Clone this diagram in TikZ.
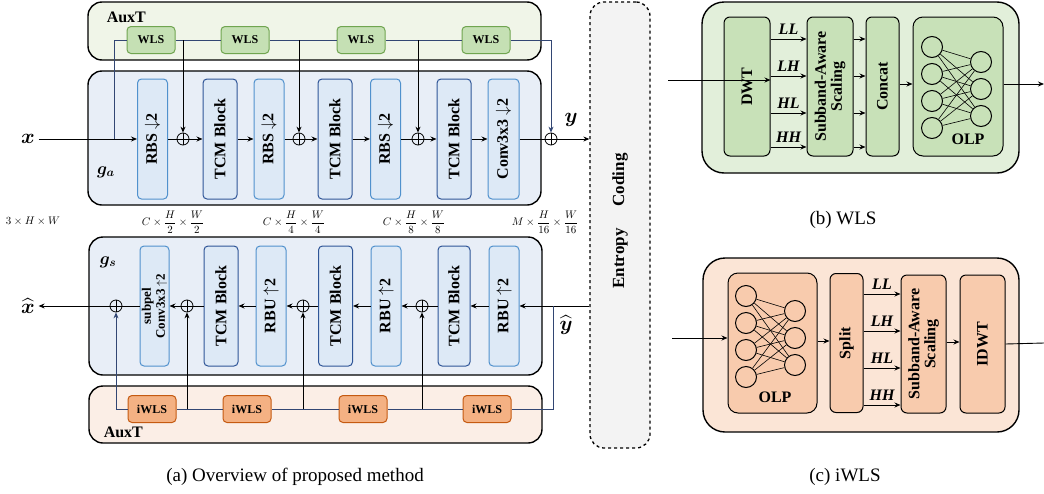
\documentclass[tikz,border=0pt]{standalone}
\usepackage{amsmath}
\usepackage{fontspec}
\setmainfont{Liberation Serif}
\usetikzlibrary{arrows.meta,calc}
\definecolor{auxg}{RGB}{240,245,232}
\definecolor{wlsfill}{RGB}{197,224,180}
\definecolor{wlsdraw}{RGB}{112,165,80}
\definecolor{gafill}{RGB}{232,238,247}
\definecolor{blockfill}{RGB}{221,233,246}
\definecolor{blueL}{RGB}{80,145,205}
\definecolor{blueD}{RGB}{47,85,151}
\definecolor{auxo}{RGB}{251,238,230}
\definecolor{iwfill}{RGB}{244,177,131}
\definecolor{iwdraw}{RGB}{197,90,17}
\definecolor{pgfill}{RGB}{226,239,218}
\definecolor{pginner}{RGB}{200,225,184}
\definecolor{pofill}{RGB}{251,229,214}
\definecolor{poinner}{RGB}{248,203,173}
\definecolor{entfill}{RGB}{243,243,243}
\definecolor{navyline}{RGB}{50,70,115}
\begin{document}
\begin{tikzpicture}[x=1pt,y=-1pt,line width=0.9pt,
  arr/.style={-{Stealth[length=6pt,width=5pt]}},
  nv/.style={draw=navyline},
  outerbox/.style={draw=black,line width=1.4pt,rounded corners=14pt,inner sep=0pt},
  blk/.style={fill=blockfill,line width=1pt,rounded corners=4pt,rotate=90,minimum width=120pt,inner sep=0pt,font=\fontsize{16}{18}\selectfont\bfseries,align=center},
  blkL/.style={blk,draw=blueL},
  blkD/.style={blk,draw=blueD},
  wlsbox/.style={draw=wlsdraw,fill=wlsfill,line width=1pt,rounded corners=4pt,minimum width=48pt,minimum height=27pt,inner sep=0pt,font=\fontsize{12}{14}\selectfont\bfseries},
  iwlsbox/.style={draw=iwdraw,fill=iwfill,line width=1pt,rounded corners=4pt,minimum width=48pt,minimum height=27pt,inner sep=0pt,font=\fontsize{12}{14}\selectfont\bfseries},
  oplus/.style={circle,draw=black,line width=0.8pt,minimum size=12pt,inner sep=0pt,
    path picture={\draw[line width=0.8pt] (path picture bounding box.north)--(path picture bounding box.south) (path picture bounding box.west)--(path picture bounding box.east);}},
  pbox/.style={draw=black,line width=1pt,rounded corners=6pt,rotate=90,minimum width=139pt,inner sep=0pt,font=\fontsize{16}{18}\selectfont\bfseries,align=center},
  neuron/.style={circle,draw=black,line width=1pt,minimum size=21pt,inner sep=0pt},
  lbl/.style={font=\fontsize{16}{18}\selectfont\bfseries},
  subl/.style={font=\fontsize{16}{18}\selectfont\bfseries\itshape},
  dimlbl/.style={font=\fontsize{11}{13}\selectfont},
  captxt/.style={font=\fontsize{19}{21}\selectfont},
  bigm/.style={font=\fontsize{22}{24}\selectfont}
]
\useasboundingbox (0,0) rectangle (1044,493);

% ---------- containers ----------
\node[outerbox,fill=auxg,minimum width=453pt,minimum height=58pt] (auxa) at (314.5,31) {};
\node[outerbox,fill=gafill,minimum width=453pt,minimum height=134pt] (ga) at (314.5,138) {};
\node[outerbox,fill=gafill,minimum width=453pt,minimum height=138pt] (gs) at (315.5,306) {};
\node[outerbox,fill=auxo,minimum width=453pt,minimum height=57pt] (auxs) at (315.5,414.5) {};
\node[draw=black,dashed,line width=1.3pt,fill=entfill,rounded corners=14pt,minimum width=60pt,minimum height=446pt,inner sep=0pt] (ent) at (620,225) {};
\node[rotate=90,font=\fontsize{17}{19}\selectfont\bfseries] (entt) at (620,221) {Entropy\hspace{22pt}Coding};

\node[lbl,anchor=west] (auxal) at (103,17) {AuxT};
\node[lbl,anchor=west] (auxsl) at (100,432) {AuxT};
\node[font=\fontsize{18}{20}\selectfont] (gal) at (106,172) {$\boldsymbol{g_a}$};
\node[font=\fontsize{18}{20}\selectfont] (gsl) at (108,262) {$\boldsymbol{g_s}$};

% ---------- g_a ----------
\node[blkL,minimum height=30pt] (rbs1) at (152.5,139) {RBS $\downarrow$2};
\node[blkD,minimum height=34pt] (tcm1) at (220,139) {TCM Block};
\node[blkL,minimum height=30pt] (rbs2) at (269,139) {RBS $\downarrow$2};
\node[blkD,minimum height=34pt] (tcm2) at (335,139) {TCM Block};
\node[blkL,minimum height=30pt] (rbs3) at (385.5,139) {RBS $\downarrow$2};
\node[blkD,minimum height=34pt] (tcm3) at (454,139) {TCM Block};
\node[blkL,minimum height=31pt] (conv) at (503.5,139) {Conv3x3 $\downarrow$2};
\node[oplus] (o1) at (183,139) {};
\node[oplus] (o2) at (299,139) {};
\node[oplus] (o3) at (418,139) {};
\node[oplus] (o4) at (551,139) {};

\node[wlsbox] (wls1) at (151,40) {WLS};
\node[wlsbox] (wls2) at (245,40) {WLS};
\node[wlsbox] (wls3) at (361,40) {WLS};
\node[wlsbox] (wls4) at (486,40) {WLS};

\node[bigm] (xin) at (28,139) {$\boldsymbol{x}$};
\coordinate (bx) at (114,139);
\draw[arr] (xin) -- (rbs1);
\draw[nv] (bx) |- (wls1);
\draw (rbs1) -- (o1);
\draw[arr] (o1) -- (tcm1);
\draw[arr] (tcm1) -- (rbs2);
\draw (rbs2) -- (o2);
\draw[arr] (o2) -- (tcm2);
\draw[arr] (tcm2) -- (rbs3);
\draw (rbs3) -- (o3);
\draw[arr] (o3) -- (tcm3);
\draw[arr] (tcm3) -- (conv);
\draw (conv) -- (o4);
\draw[arr] (o4) -- (o4 -| ent.west);
\draw[nv] (wls1) -- (wls2);
\draw[nv] (wls2) -- (wls3);
\draw[nv] (wls3) -- (wls4);
\draw[arr] (wls1.east -| o1) -- (o1);
\draw[arr] (wls2.east -| o2) -- (o2);
\draw[arr] (wls3.east -| o3) -- (o3);
\draw[nv,arr] (wls4) -| (o4);
\node[bigm] (ylab) at (571,120) {$\boldsymbol{y}$};

% ---------- dimensions ----------
\node[dimlbl] (d0) at (33,221) {$3\times H\times W$};
\node[dimlbl] (d1) at (173,222) {$C\times\dfrac{H}{2}\times\dfrac{W}{2}$};
\node[dimlbl] (d2) at (294,222) {$C\times\dfrac{H}{4}\times\dfrac{W}{4}$};
\node[dimlbl] (d3) at (414,222) {$C\times\dfrac{H}{8}\times\dfrac{W}{8}$};
\node[dimlbl] (d4) at (545,222) {$M\times\dfrac{H}{16}\times\dfrac{W}{16}$};

% ---------- g_s ----------
\node[blkL,minimum height=29pt,font=\fontsize{13}{14}\selectfont\bfseries] (subc) at (154.5,306) {subpel\\Conv3x3 $\uparrow$2};
\node[blkD,minimum height=34pt] (tcm4) at (221,306) {TCM Block};
\node[blkL,minimum height=30pt] (rbu1) at (271,306) {RBU $\uparrow$2};
\node[blkD,minimum height=34pt] (tcm5) at (335.5,306) {TCM Block};
\node[blkL,minimum height=30pt] (rbu2) at (386,306) {RBU $\uparrow$2};
\node[blkD,minimum height=32pt] (tcm6) at (454,306) {TCM Block};
\node[blkL,minimum height=30pt] (rbu3) at (504,306) {RBU $\uparrow$2};
\node[oplus] (o5) at (116,306) {};
\node[oplus] (o6) at (187,306) {};
\node[oplus] (o7) at (303,306) {};
\node[oplus] (o8) at (422,306) {};

\node[iwlsbox] (iw1) at (152,409) {iWLS};
\node[iwlsbox] (iw2) at (247,409) {iWLS};
\node[iwlsbox] (iw3) at (363,409) {iWLS};
\node[iwlsbox] (iw4) at (487,409) {iWLS};

\node[bigm] (xhat) at (28,306) {$\widehat{\boldsymbol{x}}$};
\node[bigm] (yhat) at (566,325) {$\widehat{\boldsymbol{y}}$};
\coordinate (bs) at (553,306);
\draw[arr] (ent.west |- rbu3) -- (rbu3);
\draw[nv] (bs) |- (iw4);
\draw[arr] (rbu3) -- (tcm6);
\draw (tcm6) -- (o8);
\draw[arr] (o8) -- (rbu2);
\draw[arr] (rbu2) -- (tcm5);
\draw (tcm5) -- (o7);
\draw[arr] (o7) -- (rbu1);
\draw[arr] (rbu1) -- (tcm4);
\draw (tcm4) -- (o6);
\draw[arr] (o6) -- (subc);
\draw (subc) -- (o5);
\draw[arr] (o5) -- (xhat);
\draw[nv] (iw4) -- (iw3);
\draw[nv] (iw3) -- (iw2);
\draw[nv] (iw2) -- (iw1);
\draw[arr] (iw4.west -| o8) -- (o8);
\draw[arr] (iw3.west -| o7) -- (o7);
\draw[arr] (iw2.west -| o6) -- (o6);
\draw[nv,arr] (iw1) -| (o5);

% ---------- (b) WLS ----------
\node[outerbox,fill=pgfill,rounded corners=22pt,minimum width=317pt,minimum height=171pt] (wpanel) at (860.5,87.5) {};
\node[pbox,fill=pginner,minimum height=46pt] (dwt) at (747,86.5) {DWT};
\node[pbox,fill=pginner,minimum height=46pt] (sas) at (830,86.5) {Subband-Aware\\[-2pt]Scaling};
\node[pbox,fill=pginner,minimum height=33pt] (concat) at (882.5,86.5) {Concat};
\node[draw=black,line width=1pt,rounded corners=10pt,fill=pginner,minimum width=90pt,minimum height=139pt,inner sep=0pt] (olpb) at (958,86.5) {};
\coordinate (win) at (668,80);
\coordinate (wout) at (1044,84);
\draw[arr] (win) -- (win -| dwt.south);
\foreach \s/\t in {47.5/LL,10.5/LH,-26.5/HL,-60.5/HH}{
  \draw[arr] ([yshift=\s pt]dwt.south) -- node[above=1pt,subl]{\t} ([yshift=\s pt]sas.north);
  \draw[arr] ([yshift=\s pt]sas.south) -- ([yshift=\s pt]concat.north);
}
\draw[arr] ([yshift=2.5pt]concat.south) -- ([yshift=2.5pt]olpb.west);
\draw[arr] ([yshift=2.5pt]olpb.east) -- (wout);
\node[neuron] (bn1) at (932,47) {};
\node[neuron] (bn2) at (932,74) {};
\node[neuron] (bn3) at (932,101) {};
\node[neuron] (bn4) at (932,128) {};
\node[neuron] (bm1) at (981,62) {};
\node[neuron] (bm2) at (981,89) {};
\node[neuron] (bm3) at (981,116) {};
\foreach \i in {1,...,4}{\foreach \j in {1,2,3}{\draw[line width=0.6pt] (bn\i) -- (bm\j);}}
\node[lbl] (olpbt) at (968,139) {OLP};
\node[captxt] (capb) at (843,220) {(b) WLS};

% ---------- (c) iWLS ----------
\node[outerbox,fill=pofill,rounded corners=22pt,minimum width=316pt,minimum height=174pt] (ipanel) at (861,345) {};
\node[draw=black,line width=1pt,rounded corners=10pt,fill=poinner,minimum width=89pt,minimum height=140pt,inner sep=0pt] (olpc) at (772.5,343) {};
\node[pbox,fill=poinner,minimum height=33pt] (split) at (846.5,343) {Split};
\node[pbox,fill=poinner,minimum height=45pt,minimum width=138pt] (sas2) at (923.5,344) {Subband-Aware\\[-2pt]Scaling};
\node[pbox,fill=poinner,minimum height=45pt,minimum width=138pt] (idwt) at (982.5,344) {IDWT};
\coordinate (iin) at (672,338);
\coordinate (iout) at (1044,343);
\draw[arr] (iin) -- (iin -| olpc.west);
\draw[arr] ([yshift=2pt]olpc.east) -- ([yshift=2pt]split.north);
\foreach \s/\t in {49/LL,12/LH,-25/HL,-62/HH}{
  \draw[arr] ([yshift=\s pt]split.south) -- node[above=1pt,subl]{\t} ([yshift=\s pt]split.south -| sas2.north);
}
\draw[arr] ([yshift=2pt]sas2.south) -- ([yshift=2pt]idwt.north);
\draw (idwt.south) -- (iout);
\node[neuron] (cn1) at (746,296) {};
\node[neuron] (cn2) at (746,323) {};
\node[neuron] (cn3) at (746,350) {};
\node[neuron] (cn4) at (746,377) {};
\node[neuron] (cm1) at (795,311) {};
\node[neuron] (cm2) at (795,338) {};
\node[neuron] (cm3) at (795,365) {};
\foreach \i in {1,...,4}{\foreach \j in {1,2,3}{\draw[line width=0.6pt] (cn\i) -- (cm\j);}}
\node[lbl] (olpct) at (775,397) {OLP};
\node[captxt] (capc) at (845,477) {(c) iWLS};

\node[captxt] (capa) at (295,477) {(a) Overview of proposed method};
\end{tikzpicture}
\end{document}
